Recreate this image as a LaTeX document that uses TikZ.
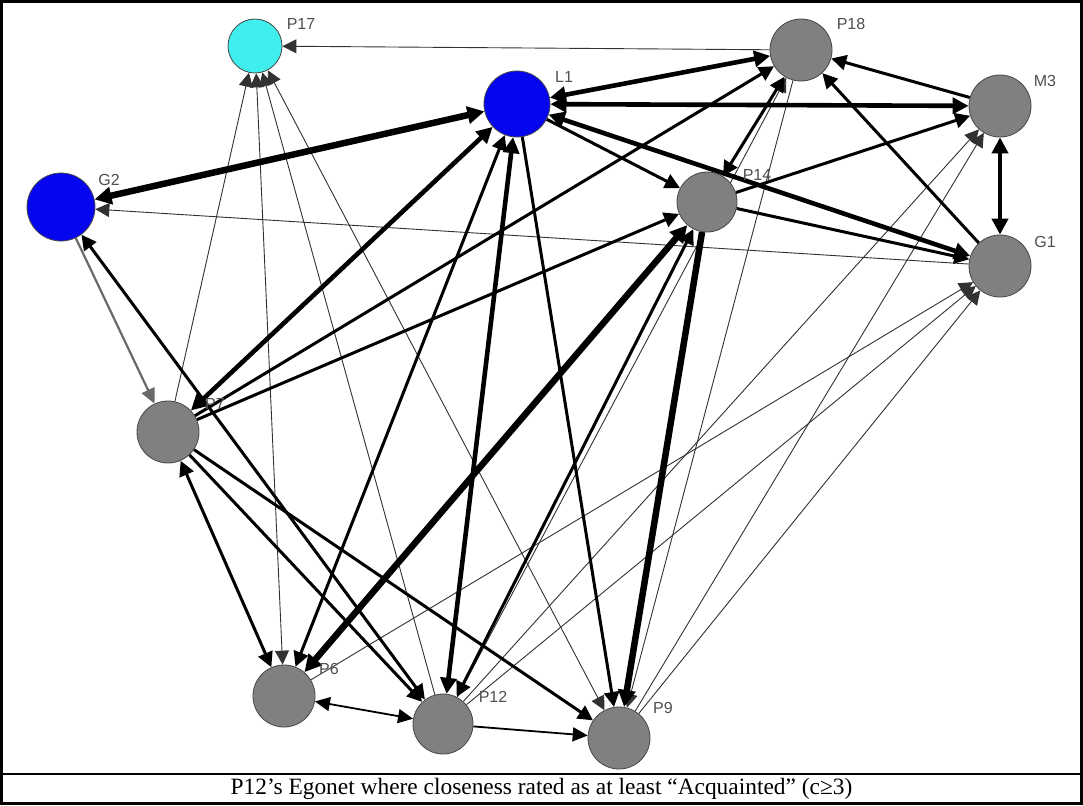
\documentclass[tikz,border=0pt]{standalone}
\usepackage{fontspec}
\usetikzlibrary{arrows.meta}
\newfontfamily\lblfont{Liberation Sans}
\newfontfamily\capfont{Liberation Serif}
\definecolor{grayfill}{RGB}{128,128,128}
\definecolor{bluefill}{RGB}{5,5,240}
\definecolor{cyanfill}{RGB}{64,238,238}
\definecolor{rimcol}{RGB}{70,70,70}
\definecolor{lblcol}{RGB}{80,80,80}
\definecolor{thincol}{RGB}{50,50,50}
\definecolor{softcol}{RGB}{105,105,105}
\pgfdeclarelayer{paper}
\pgfdeclarelayer{ties}
\pgfsetlayers{paper,ties,main}
\tikzset{
  vert/.style={circle, draw=rimcol, line width=0.8pt, inner sep=0pt},
  grayv/.style={vert, fill=grayfill},
  bluev/.style={vert, fill=bluefill},
  cyanv/.style={vert, fill=cyanfill},
  lbl/.style={font=\lblfont\fontsize{16}{18}\selectfont, text=lblcol, inner sep=0pt},
  wthin/.style={line width=0.9pt, draw=thincol, >={Triangle[length=14pt,width=14pt]}},
  wsoft/.style={line width=2.2pt, draw=softcol, >={Triangle[length=15pt,width=14pt]}},
  wlight/.style={line width=1.8pt, >={Triangle[length=15pt,width=14pt]}},
  wmed/.style={line width=3pt, >={Triangle[length=15pt,width=15pt]}},
  wstrong/.style={line width=4.6pt, >={Triangle[length=16pt,width=16pt]}},
  wheavy/.style={line width=6.5pt, >={Triangle[length=17pt,width=17pt]}},
}
\begin{document}
\begin{tikzpicture}[x=1pt,y=-1pt]
\useasboundingbox (0,0) rectangle (1083,805);
\begin{pgfonlayer}{paper}
\fill[white] (0,0) rectangle (1083,805);
\end{pgfonlayer}

% vertices
\node[cyanv, minimum size=54pt] (P17) at (255,46) {};
\node[bluev, minimum size=66pt] (L1) at (517,104) {};
\node[bluev, minimum size=68pt] (G2) at (61,207) {};
\node[grayv, minimum size=62pt] (P18) at (801,50) {};
\node[grayv, minimum size=62pt] (M3) at (1000,106) {};
\node[grayv, minimum size=60pt] (P14) at (707,202) {};
\node[grayv, minimum size=62pt] (G1) at (1000,266) {};
\node[grayv, minimum size=62pt] (P7) at (168,432) {};
\node[grayv, minimum size=62pt] (P6) at (284,696) {};
\node[grayv, minimum size=60pt] (P12) at (443,724) {};
\node[grayv, minimum size=62pt] (P9) at (619,738) {};

% vertex labels
\node[lbl] (tP17) at (301,24) {P17};
\node[lbl] (tL1) at (564,77) {L1};
\node[lbl] (tG2) at (109,180) {G2};
\node[lbl] (tP18) at (851,24) {P18};
\node[lbl] (tM3) at (1045,81) {M3};
\node[lbl] (tP14) at (757,175) {P14};
\node[lbl] (tG1) at (1045,242) {G1};
\node[lbl] (tP7) at (215,404) {P7};
\node[lbl] (tP6) at (329,669) {P6};
\node[lbl] (tP12) at (493,697) {P12};
\node[lbl] (tP9) at (663,708) {P9};

\begin{pgfonlayer}{ties}
% thin ties
\draw[wthin,->] (P18) -- (P17);
\draw[wthin,->] (G1) -- (G2);
\draw[wthin,->] (P7) -- (P17);
\draw[wthin,<->] (P6) -- (P17);
\draw[wthin,->] (P12) -- (P17);
\draw[wthin,<->] (P9) -- (P17);
\draw[wthin,->] (P6) -- (G1);
\draw[wthin,->] (P12) -- (G1);
\draw[wthin,->] (P9) -- (G1);
\draw[wthin,->] (P12) -- (M3);
\draw[wthin,->] (P9) -- (M3);
\draw[wthin,->] (P12) -- (P18);
\draw[wthin,->] (P18) -- (P9);
% light and medium ties
\draw[wsoft,->] (G2) -- (P7);
\draw[wlight,<->] (P6) -- (P12);
\draw[wlight,->] (P12) -- (P9);
\draw[wmed,->] (M3) -- (P18);
\draw[wmed,->] (G1) -- (P18);
\draw[wmed,->] (P14) -- (M3);
\draw[wmed,->] (P14) -- (G1);
\draw[wmed,->] (L1) -- (P14);
\draw[wmed,<->] (P18) -- (P14);
\draw[wmed,->] (P7) -- (P18);
\draw[wmed,->] (P7) -- (P14);
\draw[wmed,<->] (G2) -- (P12);
\draw[wmed,<->] (P7) -- (P6);
\draw[wmed,->] (P7) -- (P12);
\draw[wmed,->] (P7) -- (P9);
\draw[wmed,<->] (L1) -- (P6);
\draw[wmed,->] (L1) -- (P9);
\draw[wmed,<->] (P14) -- (P12);
% strong ties
\draw[wstrong,<->] (L1) -- (M3);
\draw[wstrong,<->] (L1) -- (G1);
\draw[wstrong,<->] (L1) -- (P7);
\draw[wstrong,<->] (L1) -- (P12);
\draw[wstrong,<->] (M3) -- (G1);
\draw[wstrong,<->] (L1) -- (P18);
% heaviest ties
\draw[wheavy,<->] (L1) -- (G2);
\draw[wheavy,<->] (P14) -- (P6);
\draw[wheavy,->] (P14) -- (P9);
\end{pgfonlayer}

% frame and caption
\draw[line width=3pt] (1.5,1.5) rectangle (1081.5,803.5);
\coordinate (capL) at (0,774);
\coordinate (capR) at (1083,774);
\draw[line width=2pt] (capL) -- (capR);
\node[font=\capfont\fontsize{23.4}{26}\selectfont, inner sep=0pt] (caption) at (541.5,789) {P12’s Egonet where closeness rated as at least “Acquainted” (c≥3)};
\end{tikzpicture}
\end{document}
